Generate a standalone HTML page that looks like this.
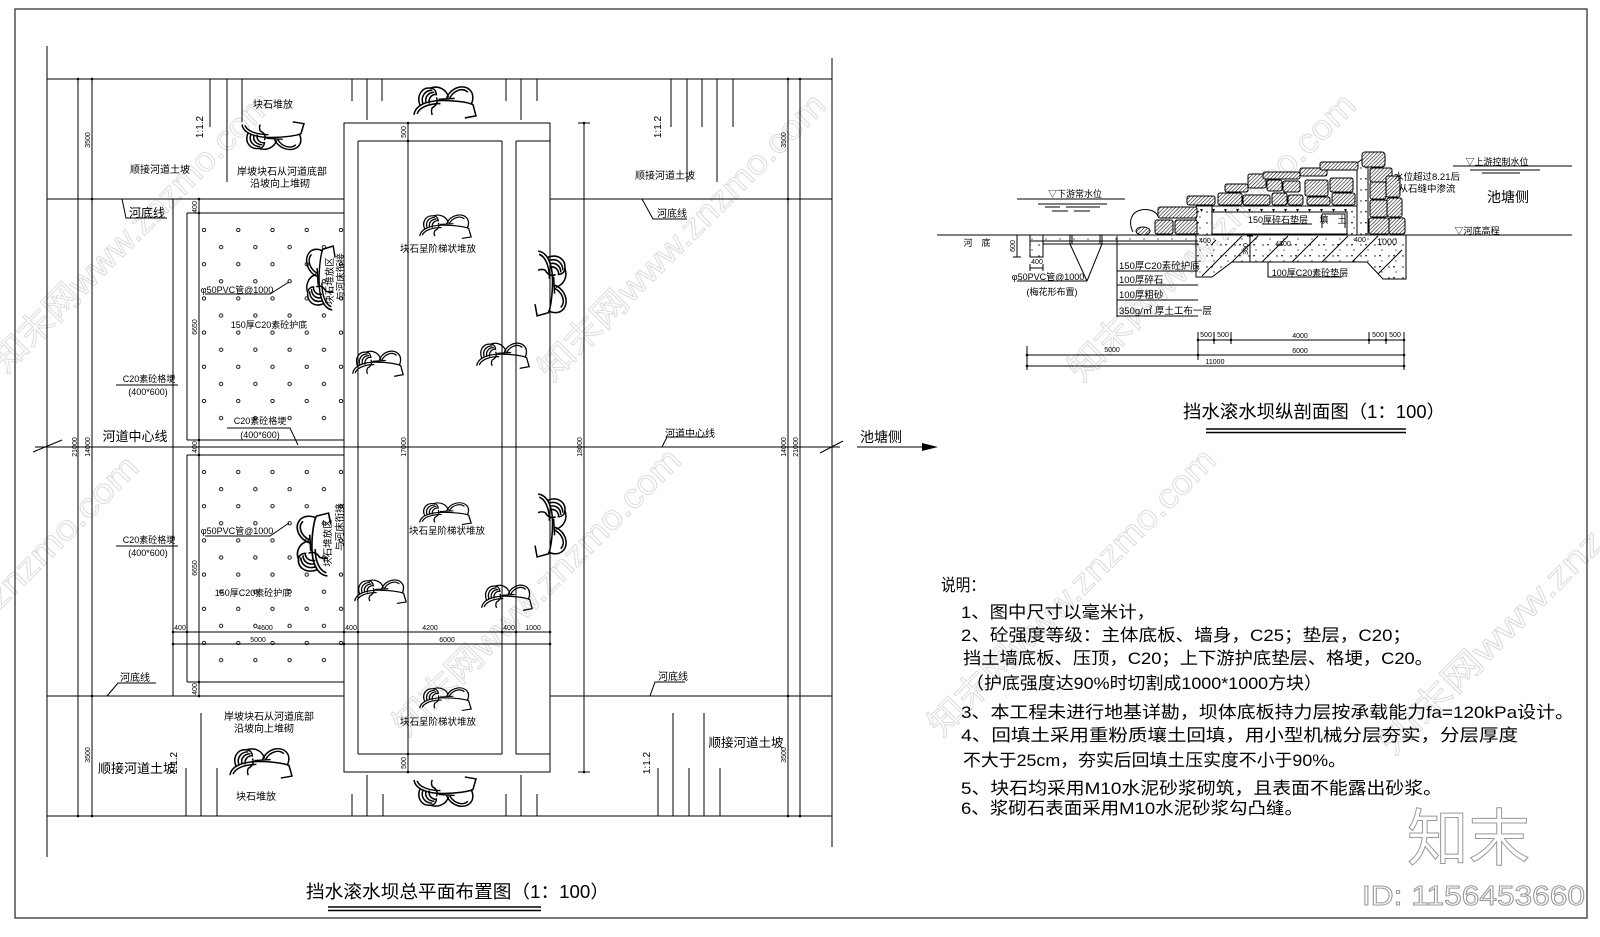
<!DOCTYPE html>
<html><head><meta charset="utf-8"><style>
html,body{margin:0;padding:0;background:#fff;}
svg{display:block;}
text{font-family:"Liberation Sans","Noto Sans CJK SC",sans-serif;fill:#000;}
.wm{fill:none;stroke:#dadada;stroke-width:0.9;font-size:34px;}
.d{font-size:7px;}
.s{font-size:10px;}
</style></head><body>
<svg width="1600" height="937" viewBox="0 0 1600 937" xmlns="http://www.w3.org/2000/svg">
<defs>
<symbol id="rk" viewBox="0 0 64 36" preserveAspectRatio="none">
<g fill="none" stroke="#000" stroke-width="1.5">
<path d="M2,31 C3,22 14,17 30,17 C44,17 56,19 60,21 L63,32 L52,34"/>
<path d="M5,30 C7,24 16,20 28,20"/>
<path d="M8,22 C4,12 10,4 18,5 C22,5 24,8 24,12"/>
<path d="M11,21 C8,13 13,7 20,7"/>
<path d="M14,20 C12,14 16,9 22,9"/>
<path d="M17,20 C16,15 19,11 24,11"/>
<path d="M18,5 C26,2 34,6 36,14"/>
<path d="M34,15 C38,4 52,0 58,8 C61,12 60,18 58,21"/>
<path d="M37,15 C41,7 50,4 55,9"/>
<path d="M24,14 C26,18 24,22 20,24 C19,26 19,29 20,31"/>
<path d="M26,16 L42,15"/>
</g></symbol>
<pattern id="hatch" width="2.6" height="2.6" patternUnits="userSpaceOnUse" patternTransform="rotate(45)"><rect width="2.6" height="2.6" fill="#fff"/><line x1="0" y1="0" x2="0" y2="2.6" stroke="#000" stroke-width="1.1"/></pattern>
<pattern id="dots1" x="204" y="230" width="34.25" height="34.2" patternUnits="userSpaceOnUse">
<g fill="none" stroke="#000" stroke-width="0.9"><circle cx="0" cy="0" r="1.7"/><circle cx="34.25" cy="0" r="1.7"/><circle cx="0" cy="34.2" r="1.7"/><circle cx="34.25" cy="34.2" r="1.7"/><circle cx="17.12" cy="17.1" r="1.7"/></g></pattern>
<pattern id="dots2" x="204" y="472" width="34.25" height="34.2" patternUnits="userSpaceOnUse">
<g fill="none" stroke="#000" stroke-width="0.9"><circle cx="0" cy="0" r="1.7"/><circle cx="34.25" cy="0" r="1.7"/><circle cx="0" cy="34.2" r="1.7"/><circle cx="34.25" cy="34.2" r="1.7"/><circle cx="17.12" cy="17.1" r="1.7"/></g></pattern>
<pattern id="spk" width="14" height="11" patternUnits="userSpaceOnUse">
<circle cx="3" cy="3" r="0.7" fill="#000"/><circle cx="10" cy="8" r="0.6" fill="#000"/><path d="M7,2 l2,0 l-1,2z" fill="#000"/></pattern>
</defs>

<!-- watermarks -->
<g>
<text class="wm" transform="translate(140,240) rotate(-45)" text-anchor="middle" textLength="380" lengthAdjust="spacingAndGlyphs">知末网www.znzmo.com</text>
<text class="wm" transform="translate(690,245) rotate(-45)" text-anchor="middle" textLength="390" lengthAdjust="spacingAndGlyphs">知末网www.znzmo.com</text>
<text class="wm" transform="translate(545,600) rotate(-45)" text-anchor="middle" textLength="390" lengthAdjust="spacingAndGlyphs">知末网www.znzmo.com</text>
<text class="wm" transform="translate(1220,245) rotate(-45)" text-anchor="middle" textLength="390" lengthAdjust="spacingAndGlyphs">知末网www.znzmo.com</text>
<text class="wm" transform="translate(1080,600) rotate(-45)" text-anchor="middle" textLength="390" lengthAdjust="spacingAndGlyphs">知末网www.znzmo.com</text>
<text class="wm" transform="translate(70,540) rotate(-45)" text-anchor="middle" textLength="200" lengthAdjust="spacingAndGlyphs">znzmo.com</text>
<text class="wm" transform="translate(1500,650) rotate(-45)" text-anchor="middle" textLength="300" lengthAdjust="spacingAndGlyphs">知末网www.znz</text>
</g>

<!-- frame -->
<rect x="15" y="9" width="1572" height="909" fill="none" stroke="#333" stroke-width="1.3"/>

<!-- apron dots -->
<rect x="200" y="225" width="146" height="198" fill="url(#dots1)"/>
<rect x="200" y="467" width="146" height="198" fill="url(#dots2)"/>

<!-- PLAN LINES -->
<g fill="none" stroke="#000" stroke-width="1">
<path d="M47,46 V857 M832,58 V847 M47,79 H832 M47,199 H344 M550,199 H832 M35,447 H840 M47,696 H344 M550,696 H832 M47,816 H832"/>
<path d="M78,79 V816 M92,79 V816 M788,79 V816 M800,79 V816"/>
<path d="M173,199 V696 M187,213 V440 M187,213 H344 M187,440 H344 M199,199 V697 M187,455 V682 M187,455 H344 M187,682 H344"/>
<path d="M344,123 H550 V772 H344 Z M358,141 V754 M502,141 V754 M516,141 V754 M358,141 H502 M516,141 H550 M358,754 H502 M516,754 H550"/>
<path d="M408,123 V772 M584,123 V772 M578,123 H590 M578,772 H590 M400,123 H416 M400,772 H416"/>
<path d="M173,632 H550 M173,644 H550 M173,628 V648 M187,628 V636 M344,628 V648 M358,628 V636 M502,628 V636 M516,628 V636 M550,628 V648"/>
<path d="M210,79 V127 M227,79 V182 M242,79 V122 M352,79 V101 M367,79 V120 M382,79 V101 M506,79 V101 M521,79 V120 M537,79 V101 M671,79 V127 M687,79 V182 M702,79 V127 M717,79 V182 M733,79 V127"/>
<path d="M186,768 V816 M201,713 V816 M217,768 V816 M352,794 V816 M367,775 V816 M383,794 V816 M506,794 V816 M521,775 V816 M537,794 V816 M658,768 V816 M673,713 V816 M689,768 V816 M704,713 V816 M720,768 V816"/>
<path d="M62,440 L33,452 M820,453 L843,441"/>
<path d="M122,199 L126,218 H167 M642,199 L653,219 H687 M662,447 L667,437 H708 M650,696 L655,682 H685 M107,696 L118,683 H156"/>
<path d="M116,385 H178 M227,428 H290 L298,445 M205,294 H270 L289,282 M116,546 H178 M205,536 H270 L289,523"/>
<path d="M857,447 H925"/>
</g>
<polygon points="922,443 938,447 922,451" fill="#000"/>
<!-- tick dots -->
<g fill="#000">
<circle cx="78" cy="79" r="1.3"/><circle cx="92" cy="79" r="1.3"/><circle cx="92" cy="199" r="1.3"/><circle cx="78" cy="816" r="1.3"/><circle cx="92" cy="816" r="1.3"/><circle cx="92" cy="696" r="1.3"/>
<circle cx="788" cy="79" r="1.3"/><circle cx="800" cy="79" r="1.3"/><circle cx="788" cy="199" r="1.3"/><circle cx="788" cy="816" r="1.3"/><circle cx="800" cy="816" r="1.3"/><circle cx="788" cy="696" r="1.3"/>
<circle cx="408" cy="123" r="1.3"/><circle cx="408" cy="141" r="1.3"/><circle cx="408" cy="754" r="1.3"/><circle cx="408" cy="772" r="1.3"/><circle cx="584" cy="123" r="1.3"/><circle cx="584" cy="772" r="1.3"/>
<circle cx="199" cy="199" r="1.3"/><circle cx="199" cy="213" r="1.3"/><circle cx="199" cy="440" r="1.3"/><circle cx="199" cy="455" r="1.3"/><circle cx="199" cy="682" r="1.3"/><circle cx="199" cy="696" r="1.3"/>
<circle cx="173" cy="632" r="1.3"/><circle cx="187" cy="632" r="1.3"/><circle cx="344" cy="632" r="1.3"/><circle cx="358" cy="632" r="1.3"/><circle cx="502" cy="632" r="1.3"/><circle cx="516" cy="632" r="1.3"/><circle cx="550" cy="632" r="1.3"/>
<circle cx="173" cy="644" r="1.3"/><circle cx="344" cy="644" r="1.3"/><circle cx="550" cy="644" r="1.3"/>
</g>

<!-- rocks -->
<g>
<use href="#rk" transform="translate(240,153) scale(1,-1)" width="65" height="33"/>
<use href="#rk" x="412" y="83" width="65" height="37"/>
<use href="#rk" x="418" y="212" width="54" height="28"/>
<use href="#rk" transform="translate(570,249) rotate(90)" width="68" height="37"/>
<use href="#rk" x="351" y="348" width="53" height="30"/>
<use href="#rk" x="475" y="340" width="55" height="30"/>
<use href="#rk" transform="translate(303,312) rotate(-90)" width="67" height="34"/>
<use href="#rk" transform="translate(293,578) rotate(-90)" width="66" height="40"/>
<use href="#rk" x="418" y="500" width="54" height="26"/>
<use href="#rk" transform="translate(570,492) rotate(90)" width="66" height="37"/>
<use href="#rk" x="353" y="577" width="54" height="28"/>
<use href="#rk" x="480" y="582" width="53" height="30"/>
<use href="#rk" x="418" y="685" width="54" height="27"/>
<use href="#rk" transform="translate(412,810) scale(1,-1)" width="65" height="35"/>
<use href="#rk" x="228" y="745" width="65" height="35"/>
</g>

<!-- PLAN TEXT -->
<g class="s" text-anchor="middle">
<text x="273" y="108">块石堆放</text>
<text x="160" y="173">顺接河道土坡</text>
<text x="282" y="175">岸坡块石从河道底部</text>
<text x="280" y="187">沿坡向上堆砌</text>
<text x="147" y="217" font-size="12">河底线</text>
<text x="149" y="382" font-size="9">C20素砼格埂</text>
<text x="148" y="395" font-size="9">(400*600)</text>
<text x="135" y="441" font-size="13">河道中心线</text>
<text x="237" y="293" font-size="9">φ50PVC管@1000</text>
<text x="269" y="328" font-size="9">150厚C20素砼护底</text>
<text x="260" y="424" font-size="9">C20素砼格埂</text>
<text x="260" y="438" font-size="9">(400*600)</text>
<text x="438" y="252" font-size="9.5">块石呈阶梯状堆放</text>
<text x="447" y="534" font-size="9.5">块石呈阶梯状堆放</text>
<text x="438" y="725" font-size="9.5">块石呈阶梯状堆放</text>
<text x="237" y="534" font-size="9">φ50PVC管@1000</text>
<text x="253" y="596" font-size="9">150厚C20素砼护底</text>
<text x="149" y="543" font-size="9">C20素砼格埂</text>
<text x="148" y="556" font-size="9">(400*600)</text>
<text x="135" y="681">河底线</text>
<text x="269" y="720">岸坡块石从河道底部</text>
<text x="264" y="732">沿坡向上堆砌</text>
<text x="137" y="773" font-size="13">顺接河道土坡</text>
<text x="256" y="800">块石堆放</text>
<text x="665" y="179">顺接河道土坡</text>
<text x="672" y="217">河底线</text>
<text x="690" y="437">河道中心线</text>
<text x="673" y="680">河底线</text>
<text x="746" y="747" font-size="12.5">顺接河道土坡</text>
<text x="881" y="442" font-size="14">池塘侧</text>
</g>
<g class="s" text-anchor="middle">
<text transform="translate(203,127) rotate(-90)">1:1.2</text>
<text transform="translate(661,127) rotate(-90)">1:1.2</text>
<text transform="translate(177,763) rotate(-90)">1:1.2</text>
<text transform="translate(650,763) rotate(-90)">1:1.2</text>
<text transform="translate(333,281) rotate(-90)" font-size="9.5">块石堆放区</text>
<text transform="translate(344,277) rotate(-90)" font-size="9.5">与河床衔接</text>
<text transform="translate(331,543) rotate(-90)" font-size="9.5">块石堆放区</text>
<text transform="translate(343,527) rotate(-90)" font-size="9.5">与河床衔接</text>
</g>
<g class="d" text-anchor="middle">
<text transform="translate(90,140) rotate(-90)">3500</text>
<text transform="translate(90,755) rotate(-90)">3500</text>
<text transform="translate(786,140) rotate(-90)">3500</text>
<text transform="translate(786,755) rotate(-90)">3500</text>
<text transform="translate(77,447) rotate(-90)">21000</text>
<text transform="translate(90,447) rotate(-90)">14000</text>
<text transform="translate(786,447) rotate(-90)">14000</text>
<text transform="translate(798,447) rotate(-90)">21000</text>
<text transform="translate(406,132) rotate(-90)">500</text>
<text transform="translate(406,763) rotate(-90)">500</text>
<text transform="translate(406,447) rotate(-90)">17000</text>
<text transform="translate(582,447) rotate(-90)">18000</text>
<text transform="translate(197,207) rotate(-90)">400</text>
<text transform="translate(197,447) rotate(-90)">400</text>
<text transform="translate(197,689) rotate(-90)">400</text>
<text transform="translate(197,327) rotate(-90)">6650</text>
<text transform="translate(197,568) rotate(-90)">6650</text>
<text x="180" y="630">400</text>
<text x="265" y="630">4600</text>
<text x="351" y="630">400</text>
<text x="430" y="630">4200</text>
<text x="509" y="630">400</text>
<text x="533" y="630">1000</text>
<text x="258" y="642">5000</text>
<text x="447" y="642">6000</text>
</g>

<!-- plan title -->
<text x="306" y="898" font-size="18" textLength="303" lengthAdjust="spacingAndGlyphs">挡水滚水坝总平面布置图（1：100）</text>
<path d="M328,907 H541 M328,910.5 H541" stroke="#000" stroke-width="1.4"/>

<!-- SECTION -->
<path d="M1196,235 H1406 V279 H1383 L1367,262 H1232 L1212,277 H1196 Z" fill="url(#spk)"/>
<rect x="1196" y="206" width="16" height="29" fill="url(#spk)"/>
<rect x="1347" y="206" width="10" height="29" fill="url(#spk)"/>
<rect x="1357" y="160" width="11" height="75" fill="url(#spk)"/>
<rect x="1043" y="236" width="155" height="5" fill="url(#spk)"/>
<rect x="1030" y="236" width="13" height="21" fill="url(#spk)"/>
<g fill="none" stroke="#000" stroke-width="1">
<path d="M937,235 H1198 M1030,241 H1198 M1043,244 H1198 M1030,235 V257 H1043 V235"/>
<path d="M1017,235 V257 M1013,235 H1021 M1013,257 H1021 M1030,268 H1043 M1030,264 V271 M1043,264 V271"/>
<path d="M1070,235 V244 M1102,235 V244 M1072,235 V244 M1100,235 V244 M1070,244 L1087,281 M1102,244 L1087,281 M1017,281 H1087"/>
<path d="M1117,236 V317 M1117,271 H1198 M1117,285 H1198 M1117,300 H1198 M1117,316 H1198"/>
<path d="M1017,199 H1125 M1038,204 H1107 M1045,207 H1060 M1066,207 H1100 M1052,211 H1068 M1074,211 H1090"/>
<path d="M1196,206 V277 H1212 L1232,262 H1367 L1383,279 H1406 V235 M1196,235 H1406 M1196,206 H1357"/>
<path d="M1212,212 H1347 V234 H1212 Z M1212,206 V235"/>
<path d="M1357,163 V235 M1368,155 V235 M1357,163 L1368,155"/>
<path d="M1232,262 L1258,236 M1262,262 L1288,236 M1292,262 L1318,236 M1322,262 L1348,236 M1352,262 L1378,236 M1202,276 L1230,248 L1242,236 M1378,274 L1402,250 M1216,240 L1212,244"/>
<path d="M1250,236 V262 M1247,236 H1253 M1247,262 H1253"/>
<path d="M1404,235 H1572 M1453,166 H1572 M1470,170 H1540 M1482,173 H1520"/>
<path d="M1268,262 V277 H1342"/>
<path d="M1262,224 H1312 M1322,214 H1345 V228 M1322,214 V228"/>
<path d="M1133,232 C1128,222 1131,212 1141,210 C1150,208 1156,212 1158,216"/>
<path d="M1198,340 H1404 M1198,332 V344 M1214,332 V344 M1231,332 V344 M1369,332 V344 M1386,332 V344 M1404,332 V344"/>
<path d="M1027,355 H1404 M1027,366 H1404 M1027,346 V370 M1198,336 V360 M1404,336 V370"/>
</g>
<g fill="#000">
<path d="M1200,209 l3,0 l-1.5,3z M1212,209 l3,0 l-1.5,3z M1224,209 l3,0 l-1.5,3z M1236,209 l3,0 l-1.5,3z M1248,209 l3,0 l-1.5,3z M1260,209 l3,0 l-1.5,3z M1272,209 l3,0 l-1.5,3z M1284,209 l3,0 l-1.5,3z M1296,209 l3,0 l-1.5,3z M1308,209 l3,0 l-1.5,3z M1320,209 l3,0 l-1.5,3z M1332,209 l3,0 l-1.5,3z M1344,209 l3,0 l-1.5,3z"/>
<circle cx="1198" cy="340" r="1.3"/><circle cx="1214" cy="340" r="1.3"/><circle cx="1231" cy="340" r="1.3"/><circle cx="1369" cy="340" r="1.3"/><circle cx="1386" cy="340" r="1.3"/><circle cx="1404" cy="340" r="1.3"/>
<circle cx="1027" cy="355" r="1.3"/><circle cx="1198" cy="355" r="1.3"/><circle cx="1404" cy="355" r="1.3"/><circle cx="1027" cy="366" r="1.3"/><circle cx="1404" cy="366" r="1.3"/>
</g>
<ellipse cx="1143" cy="231" rx="7" ry="4" fill="url(#hatch)" stroke="#000"/>
<g fill="url(#hatch)" stroke="#000" stroke-width="1">
<rect x="1158" y="207" width="39" height="11" rx="2"/>
<rect x="1155" y="220" width="18" height="14" rx="2"/>
<rect x="1175" y="220" width="22" height="14" rx="2"/>
<rect x="1187" y="196" width="28" height="9" rx="2"/>
<rect x="1218" y="193" width="24" height="12" rx="2"/>
<rect x="1225" y="184" width="23" height="8" rx="2"/>
<rect x="1248" y="174" width="18" height="14" rx="2"/>
<rect x="1243" y="195" width="27" height="10" rx="2"/>
<rect x="1272" y="193" width="15" height="12" rx="2"/>
<rect x="1288" y="195" width="15" height="10" rx="2"/>
<rect x="1267" y="180" width="15" height="11" rx="2"/>
<rect x="1283" y="181" width="17" height="11" rx="2"/>
<rect x="1263" y="172" width="37" height="7" rx="2"/>
<rect x="1300" y="168" width="27" height="8" rx="2"/>
<rect x="1305" y="180" width="23" height="16" rx="2"/>
<rect x="1330" y="178" width="23" height="14" rx="2"/>
<rect x="1307" y="197" width="23" height="8" rx="2"/>
<rect x="1332" y="193" width="23" height="12" rx="2"/>
<rect x="1320" y="162" width="38" height="8" rx="2"/>
<rect x="1362" y="152" width="23" height="15" rx="3"/>
<rect x="1370" y="168" width="22" height="14" rx="2"/>
<rect x="1370" y="182" width="16" height="17" rx="2"/>
<rect x="1386" y="176" width="14" height="21" rx="2"/>
<rect x="1370" y="200" width="17" height="17" rx="2"/>
<rect x="1387" y="198" width="15" height="19" rx="2"/>
<rect x="1369" y="218" width="20" height="16" rx="2"/>
<rect x="1389" y="218" width="16" height="16" rx="2"/>
</g>
<g font-size="9" text-anchor="middle">
<text x="1075" y="197">▽下游常水位</text>
<text x="977" y="246">河　底</text>
<text x="1048" y="280">φ50PVC管@1000</text>
<text x="1052" y="295">(梅花形布置)</text>
<text x="1278" y="223">150厚碎石垫层</text>
<text x="1333" y="223">填　土</text>
<text x="1310" y="276">100厚C20素砼垫层</text>
<text x="1427" y="180" font-size="9.5">水位超过8.21后</text>
<text x="1427" y="192" font-size="9.5">从石缝中渗流</text>
<text x="1497" y="165">▽上游控制水位</text>
<text x="1477" y="234">▽河底高程</text>
<text x="1508" y="202" font-size="14">池塘侧</text>
</g>
<g font-size="9.5">
<text x="1119" y="269">150厚C20素砼护底</text>
<text x="1119" y="283">100厚碎石</text>
<text x="1119" y="298">100厚粗砂</text>
<text x="1119" y="314">350g/㎡ 厚土工布一层</text>
</g>
<g class="d" text-anchor="middle">
<text transform="translate(1015,246) rotate(-90)">600</text>
<text x="1037" y="264">400</text>
<text x="1205" y="243">400</text>
<text x="1283" y="246">4200</text>
<text x="1360" y="242">400</text>
<text x="1387" y="245" font-size="9">1000</text>
<text transform="translate(1248,249) rotate(-90)">300</text>
<text x="1206" y="337">500</text>
<text x="1223" y="337">500</text>
<text x="1300" y="338">4000</text>
<text x="1378" y="337">500</text>
<text x="1395" y="337">500</text>
<text x="1112" y="352">5000</text>
<text x="1300" y="353">6000</text>
<text x="1215" y="364">11000</text>
</g>
<text x="1183" y="418" font-size="18" textLength="262" lengthAdjust="spacingAndGlyphs">挡水滚水坝纵剖面图（1：100）</text>
<path d="M1206,429 H1406 M1206,432.5 H1406" stroke="#000" stroke-width="1.4"/>

<!-- notes -->
<g font-size="17">
<text x="941" y="591" textLength="44" lengthAdjust="spacingAndGlyphs">说明：</text>
<text x="961" y="618" textLength="194" lengthAdjust="spacingAndGlyphs">1、图中尺寸以毫米计，</text>
<text x="961" y="641" textLength="450" lengthAdjust="spacingAndGlyphs">2、砼强度等级：主体底板、墙身，C25；垫层，C20；</text>
<text x="963" y="664" textLength="470" lengthAdjust="spacingAndGlyphs">挡土墙底板、压顶，C20；上下游护底垫层、格埂，C20。</text>
<text x="966" y="689" textLength="356" lengthAdjust="spacingAndGlyphs">（护底强度达90%时切割成1000*1000方块）</text>
<text x="961" y="718" textLength="613" lengthAdjust="spacingAndGlyphs">3、本工程未进行地基详勘，坝体底板持力层按承载能力fa=120kPa设计。</text>
<text x="961" y="741" textLength="557" lengthAdjust="spacingAndGlyphs">4、回填土采用重粉质壤土回填，用小型机械分层夯实，分层厚度</text>
<text x="963" y="766" textLength="383" lengthAdjust="spacingAndGlyphs">不大于25cm，夯实后回填土压实度不小于90%。</text>
<text x="961" y="794" textLength="481" lengthAdjust="spacingAndGlyphs">5、块石均采用M10水泥砂浆砌筑，且表面不能露出砂浆。</text>
<text x="961" y="814" textLength="342" lengthAdjust="spacingAndGlyphs">6、浆砌石表面采用M10水泥砂浆勾凸缝。</text>
</g>

<text x="1407" y="860" font-size="62" style="fill:#fff" stroke="#999" stroke-width="1" textLength="123" lengthAdjust="spacingAndGlyphs">知末</text>
<text x="1362" y="905" font-size="28" style="fill:#fff" stroke="#999" stroke-width="1" textLength="223" lengthAdjust="spacingAndGlyphs">ID: 1156453660</text>
</svg>
</body></html>
